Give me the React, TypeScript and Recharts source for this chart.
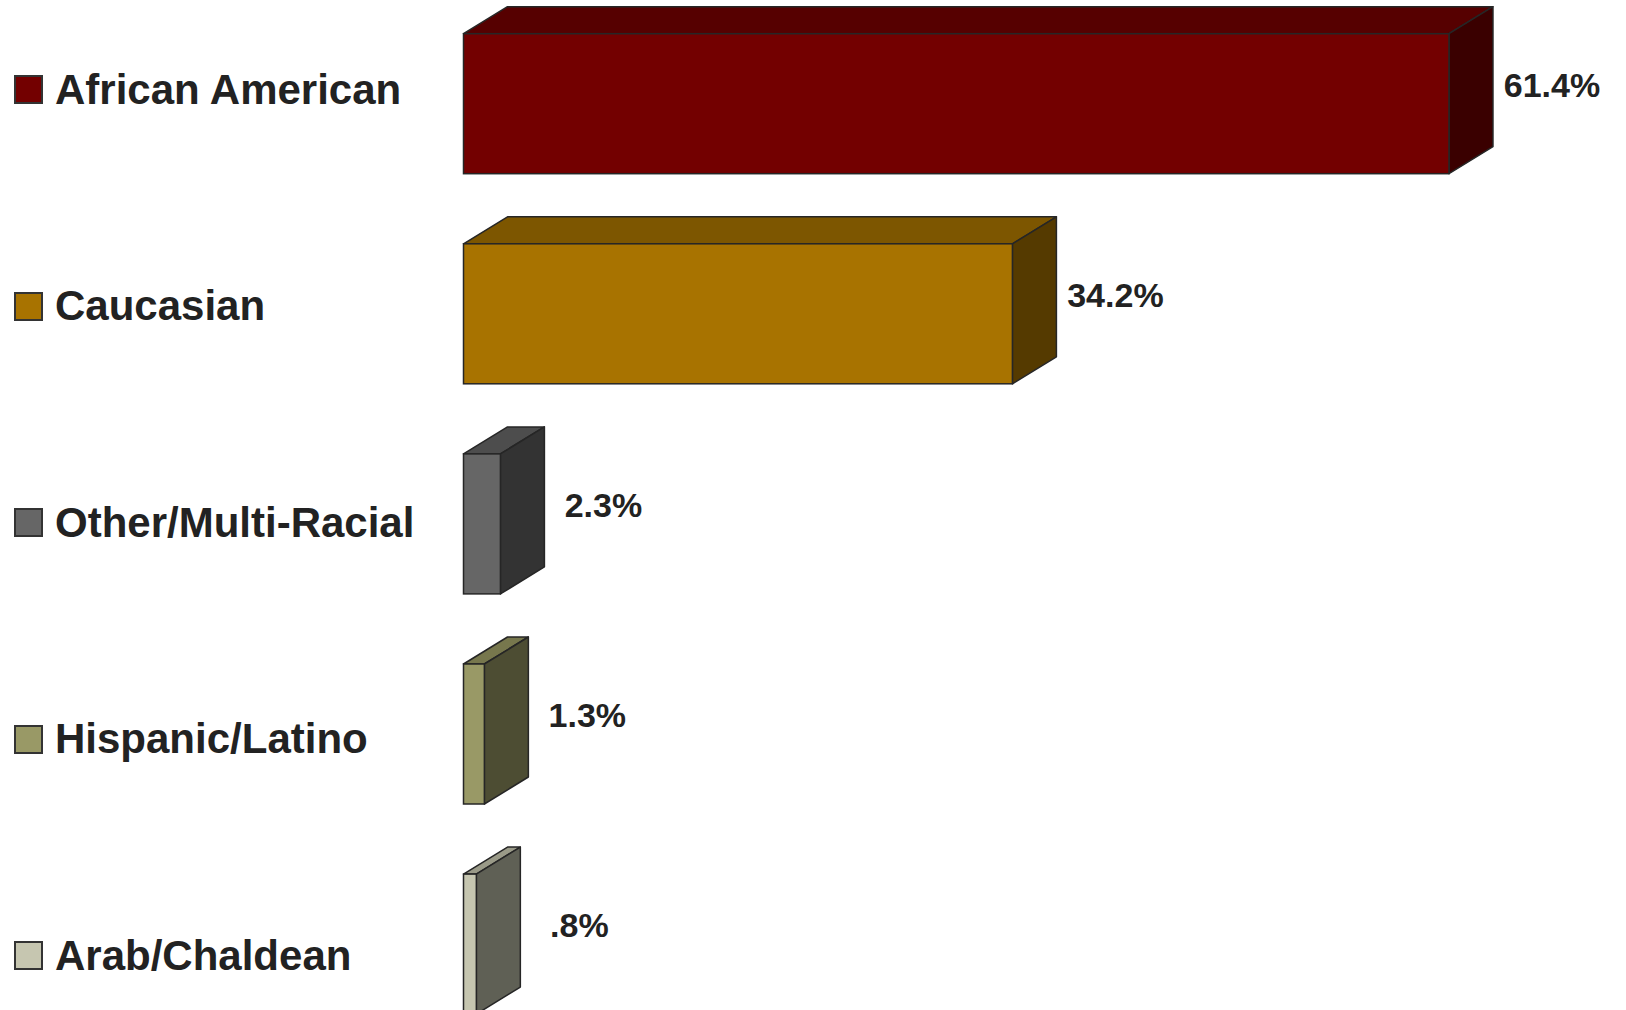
import { BarChart, Bar, XAxis, YAxis, Legend, LabelList } from "recharts";

const categories = ["African American", "Caucasian", "Other/Multi-Racial", "Hispanic/Latino", "Arab/Chaldean"];
const percentages = [61.4, 34.2, 2.3, 1.3, 0.8];
const valueLabels = ["61.4%", "34.2%", "2.3%", "1.3%", ".8%"];

// face colours of each 3D box: front, top, right side
const frontColors = ["#730000", "#a87300", "#666666", "#999966", "#c6c6b0"];
const topColors = ["#560000", "#7d5600", "#4d4d4d", "#77774d", "#9a9a88"];
const sideColors = ["#3a0000", "#553a00", "#333333", "#4d4d33", "#5f6055"];

const DEPTH_X = 44;
const DEPTH_Y = 27;
const EDGE = "#262626";
const FONT = '"Liberation Sans", Arial, sans-serif';

const chartData = categories.map((name, i) => ({
  name,
  value: percentages[i],
  label: valueLabels[i],
}));

const Box3D = (props: any) => {
  const { x, y, width, height, index } = props;
  const w = Math.max(width, 0);
  const pts = (arr: number[][]) => arr.map((p) => p.join(",")).join(" ");
  return (
    <g>
      <polygon
        points={pts([[x, y], [x + DEPTH_X, y - DEPTH_Y], [x + w + DEPTH_X, y - DEPTH_Y], [x + w, y]])}
        fill={topColors[index]}
        stroke={EDGE}
        strokeWidth={1.5}
        strokeLinejoin="round"
      />
      <polygon
        points={pts([[x + w, y], [x + w + DEPTH_X, y - DEPTH_Y], [x + w + DEPTH_X, y + height - DEPTH_Y], [x + w, y + height]])}
        fill={sideColors[index]}
        stroke={EDGE}
        strokeWidth={1.5}
        strokeLinejoin="round"
      />
      <rect x={x} y={y} width={w} height={height} fill={frontColors[index]} stroke={EDGE} strokeWidth={1.5} />
    </g>
  );
};

const ValueLabel = (props: any) => {
  const { x, y, width, height, value } = props;
  const cx = x + width + DEPTH_X + 59;
  const cy = y + height / 2 - 19;
  return (
    <text
      x={cx}
      y={cy + 12}
      textAnchor="middle"
      fill="#222"
      fontFamily={FONT}
      fontWeight="bold"
      fontSize={34}
    >
      {value}
    </text>
  );
};

const renderLegend = () => (
  <div style={{ fontFamily: FONT }}>
    {categories.map((name, i) => (
      <div
        key={name}
        style={{ height: 216.4, display: "flex", alignItems: "center", whiteSpace: "nowrap" }}
      >
        <span
          style={{
            display: "inline-block",
            marginLeft: 14,
            width: 25,
            height: 25,
            background: frontColors[i],
            border: "2px solid #333",
            marginRight: 12,
          }}
        />
        <span style={{ fontSize: 42, fontWeight: "bold", color: "#222", lineHeight: 1 }}>{name}</span>
      </div>
    ))}
  </div>
);

export default function App() {
  return (
    <div style={{ position: "absolute", left: 0, top: 0, width: 1626, height: 1010, overflow: "hidden", background: "#fff" }}>
      <div style={{ position: "relative", top: -20 }}>
        <BarChart
          width={1626}
          height={1075}
          data={chartData}
          layout="vertical"
          margin={{ top: 18.7, right: 39, bottom: 5.8, left: 463.5 }}
        >
          <XAxis type="number" domain={[0, 70]} hide />
          <YAxis type="category" dataKey="name" hide />
          <Legend
            layout="vertical"
            align="center"
            verticalAlign="middle"
            wrapperStyle={{ left: 0, top: 1.8, width: 440 }}
            content={renderLegend}
          />
          <Bar dataKey="value" barSize={140} shape={Box3D} isAnimationActive={false}>
            <LabelList dataKey="label" content={ValueLabel} />
          </Bar>
        </BarChart>
      </div>
    </div>
  );
}
